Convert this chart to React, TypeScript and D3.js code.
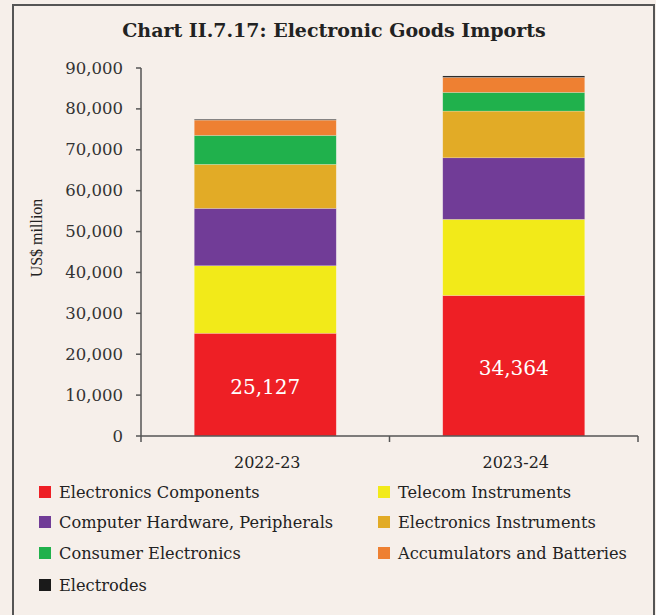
import React from "react";
import * as d3 from "d3";

const categories = ["2022-23", "2023-24"];
const seriesNames = [
  "Electronics Components",
  "Telecom Instruments",
  "Computer Hardware, Peripherals",
  "Electronics Instruments",
  "Consumer Electronics",
  "Accumulators and Batteries",
  "Electrodes",
];
const seriesColors = ["#EE1F25", "#F2EA19", "#713C97", "#E2AB26", "#20B14C", "#EE8032", "#1a1a1a"];
const electronicsComponents = [25127, 34364];
const telecomInstruments = [16510, 18620];
const computerHardware = [14030, 15060];
const electronicsInstruments = [10760, 11420];
const consumerElectronics = [7090, 4570];
const accumulatorsBatteries = [3740, 3670];
const electrodes = [200, 350];
const yTicks = [0, 10000, 20000, 30000, 40000, 50000, 60000, 70000, 80000, 90000];

const W = 656;
const H = 615;
const FONT = "'DejaVu Serif', serif";

export default function App() {
  const seriesValues = [
    electronicsComponents,
    telecomInstruments,
    computerHardware,
    electronicsInstruments,
    consumerElectronics,
    accumulatorsBatteries,
    electrodes,
  ];
  const rows = categories.map((c, i) => {
    const r: any = { cat: c };
    seriesNames.forEach((s, j) => (r[s] = seriesValues[j][i]));
    return r;
  });
  const stacked = d3.stack<any>().keys(seriesNames)(rows);

  const x0 = 141;
  const x1 = 638;
  const yTop = 68;
  const yBot = 436;
  const x = d3.scaleBand().domain(categories).range([x0, x1]).paddingInner(0).paddingOuter(0);
  const barW = 142;
  const y = d3.scaleLinear().domain([0, 90000]).range([yBot, yTop]);
  const fmt = d3.format(",");

  const legendPos = seriesNames.map((_, i) => ({
    x: i % 2 === 0 ? 39 : 378,
    y: [492, 522, 553, 585][Math.floor(i / 2)],
  }));

  return (
    <svg
      width={W}
      height={H}
      style={{ position: "absolute", left: 0, top: 0, display: "block" }}
      fontFamily={FONT}
    >
      <rect x={0} y={0} width={W} height={H} fill="#F6EFEA" />
      <path d={`M13,${H} V5 H654 V${H}`} fill="none" stroke="#555" strokeWidth={2} />
      <text x={334} y={37} textAnchor="middle" fontSize={19} fontWeight="bold" fill="#222">
        Chart II.7.17: Electronic Goods Imports
      </text>

      {stacked.map((layer, si) =>
        layer.map((d, ci) => (
          <rect
            key={`${si}-${ci}`}
            x={(x(categories[ci]) as number) + x.bandwidth() / 2 - barW / 2}
            y={y(d[1])}
            width={barW}
            height={Math.max(0, y(d[0]) - y(d[1]))}
            fill={seriesColors[si]}
            stroke="#ffffff"
            strokeOpacity={0.35}
            strokeWidth={0.6}
          />
        ))
      )}

      {categories.map((c, ci) => {
        const v = electronicsComponents[ci];
        const cy = (y(0) + y(v)) / 2;
        return (
          <text
            key={c}
            x={(x(c) as number) + x.bandwidth() / 2}
            y={cy + 9}
            textAnchor="middle"
            fontSize={20}
            fill="#ffffff"
          >
            {fmt(v)}
          </text>
        );
      })}

      <line x1={x0} x2={x0} y1={yTop} y2={yBot} stroke="#555" strokeWidth={1.5} />
      <line x1={x0} x2={x1} y1={yBot} y2={yBot} stroke="#555" strokeWidth={1.5} />
      {yTicks.map((t) => (
        <g key={t}>
          <line x1={x0 - 5} x2={x0} y1={y(t)} y2={y(t)} stroke="#555" strokeWidth={1.5} />
          <text x={123} y={y(t) + 5.5} textAnchor="end" fontSize={16.5} fill="#333">
            {fmt(t)}
          </text>
        </g>
      ))}
      {[x0, ...categories.map((c) => (x(c) as number) + x.bandwidth())].map((px, i) => (
        <line key={i} x1={px} x2={px} y1={yBot} y2={yBot + 6} stroke="#555" strokeWidth={1.5} />
      ))}
      {categories.map((c) => (
        <text
          key={c}
          x={(x(c) as number) + x.bandwidth() / 2 + 2}
          y={468}
          textAnchor="middle"
          fontSize={16}
          fill="#222"
        >
          {c}
        </text>
      ))}
      <text
        transform={`translate(42,238) rotate(-90)`}
        textAnchor="middle"
        fontSize={16}
        fontFamily="'Liberation Serif', serif"
        fill="#222"
      >
        US$ million
      </text>

      {seriesNames.map((s, i) => (
        <g key={s}>
          <rect x={legendPos[i].x} y={legendPos[i].y - 6} width={12} height={12} fill={seriesColors[i]} />
          <text x={legendPos[i].x + 20} y={legendPos[i].y + 5.5} fontSize={16.2} fill="#222">
            {s}
          </text>
        </g>
      ))}
    </svg>
  );
}
